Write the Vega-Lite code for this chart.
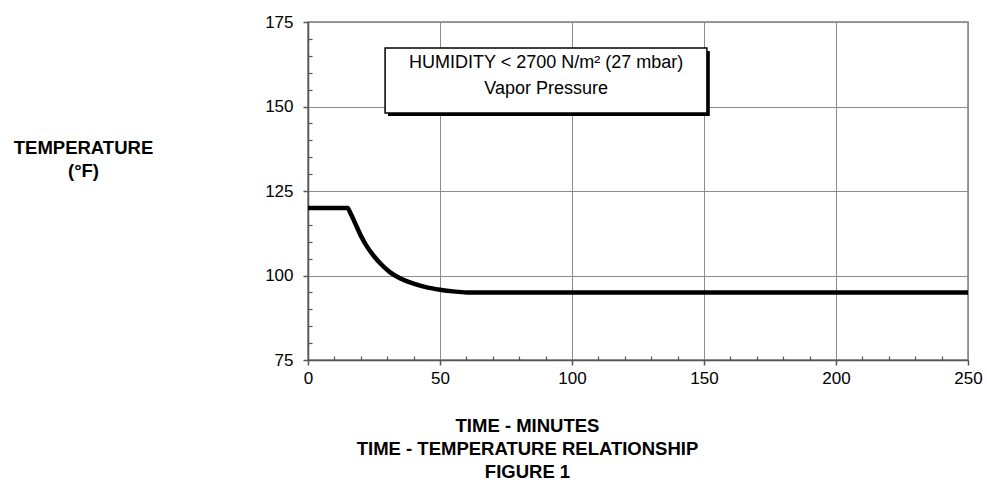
{
  "$schema": "https://vega.github.io/schema/vega-lite/v6.json",
  "width": 660,
  "height": 338,
  "autosize": {"type": "none"},
  "padding": {"left": 308, "top": 22, "right": 19, "bottom": 125},
  "background": "white",
  "config": {
    "font": "Liberation Sans",
    "view": {"stroke": "#808080", "strokeWidth": 1.5},
    "axis": {"labelFont": "Liberation Sans", "titleFont": "Liberation Sans", "labelColor": "black", "titleColor": "black"}
  },
  "datasets": {
    "curve": [
      {"time": 0, "temp": 120},
      {"time": 15, "temp": 120},
      {"time": 16, "temp": 118.6},
      {"time": 18, "temp": 115.2},
      {"time": 20, "temp": 111.8},
      {"time": 22, "temp": 109},
      {"time": 25, "temp": 105.7},
      {"time": 28, "temp": 103.1},
      {"time": 31, "temp": 101},
      {"time": 35, "temp": 99.1},
      {"time": 40, "temp": 97.6},
      {"time": 45, "temp": 96.5},
      {"time": 50, "temp": 95.8},
      {"time": 55, "temp": 95.3},
      {"time": 60, "temp": 95},
      {"time": 250, "temp": 95}
    ],
    "box": [{"x1": 29.2, "x2": 151.1, "y1": 167.3, "y2": 148.1}],
    "shadow": [{"x1": 30.3, "x2": 152.2, "y1": 166.4, "y2": 147.2}],
    "notes": [
      {"t": 90.2, "v": 162.9, "label": "HUMIDITY < 2700 N/m² (27 mbar)"},
      {"t": 90.2, "v": 155.2, "label": "Vapor Pressure"}
    ]
  },
  "resolve": {"axis": {"x": "independent", "y": "independent"}},
  "layer": [
    {
      "data": {"name": "curve"},
      "mark": {"type": "line", "color": "black", "strokeWidth": 4.5, "interpolate": "monotone"},
      "encoding": {
        "x": {
          "field": "time", "type": "quantitative",
          "scale": {"domain": [0, 250], "nice": false},
          "axis": {
            "orient": "bottom",
            "values": [0, 50, 100, 150, 200, 250],
            "grid": true, "gridColor": "#8c8c8c", "gridWidth": 1, "gridOpacity": 1,
            "domainColor": "#555", "domainWidth": 1.5,
            "tickColor": "#555", "tickSize": 5, "tickWidth": 1.5,
            "labelFontSize": 17, "labelPadding": 5, "labelFlush": false,
            "title": ["TIME - MINUTES", "TIME - TEMPERATURE RELATIONSHIP", "FIGURE 1"],
            "titleFontSize": 18.5, "titleFontWeight": "bold",
            "titleX": 219, "titleY": 65, "titleAnchor": null, "titleAlign": "center",
            "titleBaseline": "middle", "titleLineHeight": 23
          }
        },
        "y": {
          "field": "temp", "type": "quantitative",
          "scale": {"domain": [75, 175], "nice": false},
          "axis": {
            "orient": "left",
            "values": [75, 100, 125, 150, 175],
            "grid": true, "gridColor": "#8c8c8c", "gridWidth": 1, "gridOpacity": 1,
            "domainColor": "#555", "domainWidth": 1.5,
            "tickColor": "#555", "tickSize": 5, "tickWidth": 1.5,
            "labelFontSize": 17, "labelPadding": 10, "labelFlush": false,
            "title": ["TEMPERATURE", "(°F)"],
            "titleFontSize": 18.5, "titleFontWeight": "bold",
            "titleAngle": 0, "titleX": -225, "titleY": 125, "titleAlign": "center",
            "titleBaseline": "middle", "titleLineHeight": 23
          }
        }
      }
    },
    {
      "data": {"name": "curve"},
      "mark": {"type": "point", "opacity": 0},
      "encoding": {
        "x": {
          "field": "time", "type": "quantitative",
          "axis": {
            "orient": "bottom",
            "values": [10, 20, 30, 40, 60, 70, 80, 90, 110, 120, 130, 140, 160, 170, 180, 190, 210, 220, 230, 240],
            "grid": false, "domain": false, "labels": false, "title": null,
            "tickColor": "#555", "tickSize": -4, "tickWidth": 1.2
          }
        },
        "y": {
          "field": "temp", "type": "quantitative",
          "axis": {
            "orient": "left",
            "values": [80, 85, 90, 95, 105, 110, 115, 120, 130, 135, 140, 145, 155, 160, 165, 170],
            "grid": false, "domain": false, "labels": false, "title": null,
            "tickColor": "#555", "tickSize": -4, "tickWidth": 1.2
          }
        }
      }
    },
    {
      "data": {"name": "shadow"},
      "mark": {"type": "rect", "fill": "black"},
      "encoding": {
        "x": {"field": "x1", "type": "quantitative", "axis": null},
        "x2": {"field": "x2"},
        "y": {"field": "y1", "type": "quantitative", "axis": null},
        "y2": {"field": "y2"}
      }
    },
    {
      "data": {"name": "box"},
      "mark": {"type": "rect", "fill": "white", "stroke": "black", "strokeWidth": 1.5},
      "encoding": {
        "x": {"field": "x1", "type": "quantitative", "axis": null},
        "x2": {"field": "x2"},
        "y": {"field": "y1", "type": "quantitative", "axis": null},
        "y2": {"field": "y2"}
      }
    },
    {
      "data": {"name": "notes"},
      "mark": {"type": "text", "fontSize": 18, "align": "center", "baseline": "middle", "color": "black"},
      "encoding": {
        "x": {"field": "t", "type": "quantitative", "axis": null},
        "y": {"field": "v", "type": "quantitative", "axis": null},
        "text": {"field": "label"}
      }
    }
  ]
}
